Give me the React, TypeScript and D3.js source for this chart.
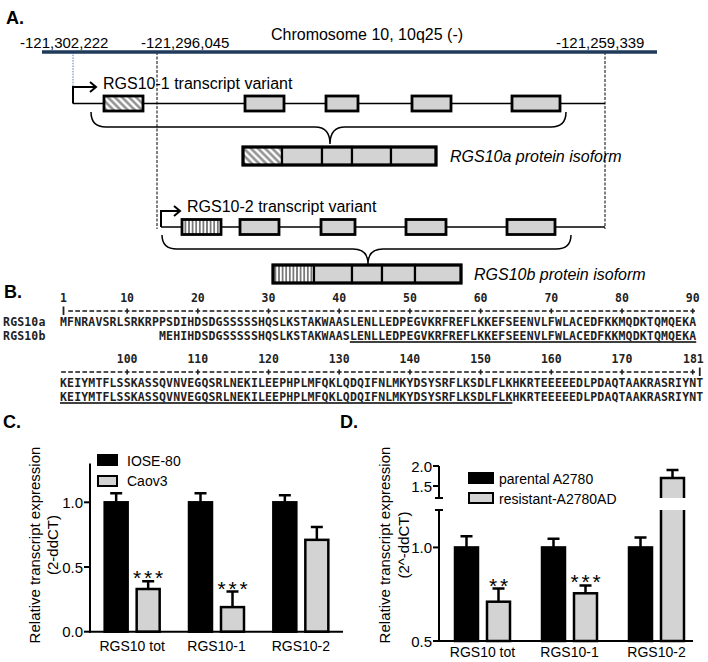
import React from "react";
import * as d3 from "d3";

const SANS = "'Liberation Sans', Arial, Helvetica, sans-serif";
const MONO = "'DejaVu Sans Mono', 'Liberation Mono', monospace";
const GRAY = "#d3d3d3";

// ---------- Panel A (schematic units) ----------
const chromTitle = "Chromosome 10, 10q25 (-)";
const genomicLabels = ["-121,302,222", "-121,296,045", "-121,259,339"];
const transcriptNames = ["RGS10-1 transcript variant", "RGS10-2 transcript variant"];
const isoformNames = ["RGS10a protein isoform", "RGS10b protein isoform"];
const exons1 = [[104, 143], [245, 284], [326, 358], [412, 451], [512, 560]];
const exons2 = [[182, 221], [240, 279], [321, 355], [406, 446], [507, 555]];
const isoformA = [243, 282, 322, 352, 391, 436];
const isoformB = [273, 314, 352, 382, 415, 461];

// ---------- Panel B ----------
const seqNames = ["RGS10a", "RGS10b"];
const rgs10aLine1 = "MFNRAVSRLSRKRPPSDIHDSDGSSSSSHQSLKSTAKWAASLENLLEDPEGVKRFREFLKKEFSEENVLFWLACEDFKKMQDKTQMQEKA";
const rgs10bLine1 = "MEHIHDSDGSSSSSHQSLKSTAKWAASLENLLEDPEGVKRFREFLKKEFSEENVLFWLACEDFKKMQDKTQMQEKA";
const rgs10bStart1 = 15;
const rgs10aLine2 = "KEIYMTFLSSKASSQVNVEGQSRLNEKILEEPHPLMFQKLQDQIFNLMKYDSYSRFLKSDLFLKHKRTEEEEEDLPDAQTAAKRASRIYNT";
const rgs10bLine2 = "KEIYMTFLSSKASSQVNVEGQSRLNEKILEEPHPLMFQKLQDQIFNLMKYDSYSRFLKSDLFLKHKRTEEEEEDLPDAQTAAKRASRIYNT";
const rulerNums1 = [1, 10, 20, 30, 40, 50, 60, 70, 80, 90];
const rulerNums2 = [100, 110, 120, 130, 140, 150, 160, 170, 181];
const underline1 = [42, 90];
const underline2 = [91, 154];

// ---------- Panel C ----------
const categories = ["RGS10 tot", "RGS10-1", "RGS10-2"];
const seriesC = ["IOSE-80", "Caov3"];
const ioseMean = [1.0, 1.0, 1.0];
const ioseSem = [0.07, 0.07, 0.055];
const caov3Mean = [0.33, 0.19, 0.71];
const caov3Sem = [0.06, 0.12, 0.1];
const caov3Stars = ["***", "***", ""];
const cTicks = [0, 0.5, 1.0];
const cTitle = ["Relative transcript expression", "(2-ddCT)"];

// ---------- Panel D ----------
const seriesD = ["parental A2780", "resistant-A2780AD"];
const parentalMean = [1.0, 1.0, 1.0];
const parentalSem = [0.06, 0.047, 0.053];
const resistantMean = [0.71, 0.755, 1.7];
const resistantSem = [0.07, 0.042, 0.2];
const resistantStars = ["**", "***", ""];
const dTicksLower = [0.5, 1.0];
const dTicksUpper = [1.5, 2.0];
const dTitle = ["Relative transcript expression", "(2^-ddCT)"];

const fmt = d3.format(".1f");

function brace(x1: number, x2: number, cx: number, y0: number, y1: number, y2: number, r: number) {
  return `M${x1},${y0} Q${x1},${y1} ${x1 + r},${y1} H${cx - r} Q${cx},${y1} ${cx},${y2} Q${cx},${y1} ${cx + r},${y1} H${x2 - r} Q${x2},${y1} ${x2},${y0}`;
}

function PanelA() {
  const sx = d3.scaleLinear().domain([0, 708]).range([0, 708]);
  const chromY = 52;
  const t1Y = 103.5;
  const t2Y = 227;
  const eh = 15;
  const exonRects = (ex: number[][], y: number, pat: string) =>
    ex.map((e, i) => (
      <rect key={i} x={sx(e[0])} y={y - eh / 2} width={sx(e[1]) - sx(e[0])} height={eh}
        fill={i === 0 ? `url(#${pat})` : GRAY} stroke="#000" strokeWidth={2.8} />
    ));
  const protein = (seg: number[], y: number, h: number, pat: string) => (
    <g>
      {seg.slice(0, -1).map((s, i) => (
        <rect key={i} x={sx(s)} y={y} width={sx(seg[i + 1]) - sx(s)} height={h}
          fill={i === 0 ? `url(#${pat})` : GRAY} stroke="#000" strokeWidth={2.2} />
      ))}
      <rect x={sx(seg[0])} y={y} width={sx(seg[seg.length - 1]) - sx(seg[0])} height={h}
        fill="none" stroke="#000" strokeWidth={3.2} />
    </g>
  );
  return (
    <g>
      <text x={6} y={24} fontSize={18} fontWeight="bold">A.</text>
      <text x={367} y={40} fontSize={16} textAnchor="middle">{chromTitle}</text>
      <text x={20} y={48} fontSize={15}>{genomicLabels[0]}</text>
      <text x={141} y={48} fontSize={15}>{genomicLabels[1]}</text>
      <text x={556} y={48} fontSize={15}>{genomicLabels[2]}</text>
      <line x1={73} x2={73} y1={chromY} y2={t1Y} stroke="#4f81bd" strokeWidth={1} strokeDasharray="1.5,1.2" />
      <line x1={157} x2={157} y1={chromY} y2={t2Y + 2} stroke="#000" strokeWidth={1} strokeDasharray="3,1.5" />
      <line x1={605} x2={605} y1={chromY} y2={t2Y + 2} stroke="#000" strokeWidth={1} strokeDasharray="3,1.5" />
      <line x1={sx(42)} x2={sx(657)} y1={chromY} y2={chromY} stroke="#1f3a5a" strokeWidth={3.5} />
      <line x1={73} x2={605} y1={t1Y} y2={t1Y} stroke="#000" strokeWidth={1.3} />
      <path d={`M73,${t1Y} V87 H96 M90,82 L96,87 L90,92`} fill="none" stroke="#000" strokeWidth={2} />
      <text x={103} y={89} fontSize={16}>{transcriptNames[0]}</text>
      {exonRects(exons1, t1Y, "hatchDiag")}
      <path d={brace(91, 566, 330, 112, 127, 144, 15)} fill="none" stroke="#000" strokeWidth={1.5} />
      {protein(isoformA, 147, 18, "hatchDiag")}
      <text x={450} y={162} fontSize={16} fontStyle="italic">{isoformNames[0]}</text>
      <line x1={161} x2={605} y1={t2Y} y2={t2Y} stroke="#000" strokeWidth={1.3} />
      <path d={`M161,${t2Y} V211 H180 M174,206 L180,211 L174,216`} fill="none" stroke="#000" strokeWidth={2} />
      <text x={187} y={212} fontSize={16}>{transcriptNames[1]}</text>
      {exonRects(exons2, t2Y, "hatchVert")}
      <path d={brace(162, 571, 368, 235, 249, 264, 15)} fill="none" stroke="#000" strokeWidth={1.5} />
      {protein(isoformB, 265, 18, "hatchVert")}
      <text x={474} y={280} fontSize={16} fontStyle="italic">{isoformNames[1]}</text>
    </g>
  );
}

function Ruler({ from, to, y, seqX, off }: { from: number; to: number; y: number; seqX: (v: number) => number; off: number }) {
  const step = seqX(2) - seqX(1);
  const pos = d3.range(from, to + 1);
  return (
    <g stroke="#222">
      {pos.map((p) => {
        const cx = seqX(p - off);
        const isEnd = p === 1 || p === 181;
        if (isEnd) return <line key={p} x1={cx} x2={cx} y1={y - 4.5} y2={y + 4} strokeWidth={1.8} />;
        const isPlus = p % 10 === 0;
        return (
          <g key={p}>
            <line x1={cx - step / 2 + 1.2} x2={cx + step / 2 - 1.2} y1={y} y2={y} strokeWidth={1.6} />
            {isPlus && <line x1={cx} x2={cx} y1={y - 2.5} y2={y + 2.5} strokeWidth={1.6} />}
          </g>
        );
      })}
    </g>
  );
}

function PanelB() {
  const seqX = d3.scaleLinear().domain([1, 90]).range([63.5, 692.7]);
  const step = seqX(2) - seqX(1);
  const xs = (start: number, n: number) => d3.range(n).map((i) => seqX(start + i).toFixed(2)).join(" ");
  const rows = [
    { numY: 302, rulY: 311, aY: 326, bY: 339.5 },
    { numY: 363, rulY: 372, aY: 387, bY: 400.5 },
  ];
  const seqStyle = { fontFamily: MONO, fontWeight: "bold" as const, fontSize: 11.5, fill: "#222" };
  const nameX = (i: number) => (3 + step / 2 + i * step).toFixed(2);
  return (
    <g>
      <text x={4} y={298} fontSize={18} fontWeight="bold">B.</text>
      {rulerNums1.map((n) => (
        <text key={n} x={seqX(n)} y={rows[0].numY} textAnchor="middle" style={seqStyle}>{n}</text>
      ))}
      <Ruler from={1} to={90} y={rows[0].rulY} seqX={seqX} off={0} />
      <text x={d3.range(6).map(nameX).join(" ")} y={rows[0].aY} textAnchor="middle" style={seqStyle}>{seqNames[0]}</text>
      <text x={d3.range(6).map(nameX).join(" ")} y={rows[0].bY} textAnchor="middle" style={seqStyle}>{seqNames[1]}</text>
      <text x={xs(1, rgs10aLine1.length)} y={rows[0].aY} textAnchor="middle" style={seqStyle}>{rgs10aLine1}</text>
      <text x={xs(rgs10bStart1, rgs10bLine1.length)} y={rows[0].bY} textAnchor="middle" style={seqStyle}>{rgs10bLine1}</text>
      <line x1={seqX(underline1[0]) - step / 2} x2={seqX(underline1[1]) + step / 2} y1={rows[0].bY + 2.5} y2={rows[0].bY + 2.5} stroke="#000" strokeWidth={1.3} />
      {rulerNums2.map((n) => (
        <text key={n} x={n === 181 ? seqX(n - 90) + 4 : seqX(n - 90)} y={rows[1].numY}
          textAnchor={n === 181 ? "end" : "middle"} style={seqStyle}>{n}</text>
      ))}
      <Ruler from={91} to={181} y={rows[1].rulY} seqX={seqX} off={90} />
      <text x={xs(1, rgs10aLine2.length)} y={rows[1].aY} textAnchor="middle" style={seqStyle}>{rgs10aLine2}</text>
      <text x={xs(1, rgs10bLine2.length)} y={rows[1].bY} textAnchor="middle" style={seqStyle}>{rgs10bLine2}</text>
      <line x1={seqX(underline2[0] - 90) - step / 2} x2={seqX(underline2[1] - 90) + step / 2} y1={rows[1].bY + 2.5} y2={rows[1].bY + 2.5} stroke="#000" strokeWidth={1.3} />
    </g>
  );
}

function Stars({ cx, y, s }: { cx: number; y: number; s: string }) {
  if (!s) return null;
  const n = s.length;
  const xs = d3.range(n).map((i) => (cx + (i - (n - 1) / 2) * 11).toFixed(1)).join(" ");
  return <text x={xs} y={y} fontSize={21} textAnchor="middle">{s}</text>;
}

function PanelC() {
  const x = d3.scaleBand().domain(categories).range([90, 343]);
  const y = d3.scaleLinear().domain([0, 1.3]).range([631.7, 463.5]);
  const bw = 23, gap = 4.5, cap = 6;
  const y0 = y(0);
  return (
    <g>
      <text x={3} y={428} fontSize={18} fontWeight="bold">C.</text>
      <text transform="translate(40,545) rotate(-90)" fontSize={15} textAnchor="middle">{cTitle[0]}</text>
      <text transform="translate(58,545) rotate(-90)" fontSize={15} textAnchor="middle">{cTitle[1]}</text>
      {categories.map((c, i) => {
        const cx = (x(c) as number) + x.bandwidth() / 2;
        const bx = cx - gap - bw, gx = cx + gap;
        const yb = y(ioseMean[i]), yg = y(caov3Mean[i]);
        const eb = y(ioseMean[i] + ioseSem[i]), eg = y(caov3Mean[i] + caov3Sem[i]);
        return (
          <g key={c}>
            <path d={`M${bx + bw / 2},${yb} V${eb} M${bx + bw / 2 - cap},${eb} H${bx + bw / 2 + cap}`} stroke="#000" strokeWidth={2.5} fill="none" />
            <path d={`M${gx + bw / 2},${yg} V${eg} M${gx + bw / 2 - cap},${eg} H${gx + bw / 2 + cap}`} stroke="#000" strokeWidth={2.5} fill="none" />
            <rect x={bx} y={yb} width={bw} height={y0 - yb} fill="#000" stroke="#000" strokeWidth={2.5} />
            <rect x={gx} y={yg} width={bw} height={y0 - yg} fill={GRAY} stroke="#000" strokeWidth={2.5} />
            <Stars cx={gx + bw / 2} y={eg + 4} s={caov3Stars[i]} />
            <text x={cx} y={651} fontSize={14} textAnchor="middle">{c}</text>
          </g>
        );
      })}
      <line x1={90} x2={90} y1={y(0) + 1} y2={y(1.3)} stroke="#000" strokeWidth={2} />
      <line x1={89} x2={343} y1={y0} y2={y0} stroke="#000" strokeWidth={2} />
      {cTicks.map((t) => (
        <g key={t}>
          <line x1={84} x2={90} y1={y(t)} y2={y(t)} stroke="#000" strokeWidth={2} />
          <text x={83} y={y(t) + 5.5} fontSize={15} textAnchor="end">{fmt(t)}</text>
        </g>
      ))}
      <rect x={98} y={455} width={19} height={10} fill="#000" stroke="#000" strokeWidth={2} />
      <text x={127} y={466} fontSize={14}>{seriesC[0]}</text>
      <rect x={98} y={476} width={19} height={10} fill={GRAY} stroke="#000" strokeWidth={2} />
      <text x={127} y={486} fontSize={14}>{seriesC[1]}</text>
    </g>
  );
}

function PanelD() {
  const ax = 439;
  const x = d3.scaleBand().domain(categories).range([ax, 700]);
  const yl = d3.scaleLinear().domain([0.5, 1.2]).range([641, 510]);
  const yu = d3.scaleLinear().domain([1.2, 2.0]).range([498, 466]);
  const y = (v: number) => (v <= 1.2 ? yl(v) : yu(v));
  const bw = 23, gap = 4.5, cap = 6;
  const y0 = yl(0.5);
  return (
    <g>
      <text x={340} y={428} fontSize={18} fontWeight="bold">D.</text>
      <text transform="translate(390,545) rotate(-90)" fontSize={15} textAnchor="middle">{dTitle[0]}</text>
      <text transform="translate(409,545) rotate(-90)" fontSize={15} textAnchor="middle">{dTitle[1]}</text>
      {categories.map((c, i) => {
        const cx = (x(c) as number) + x.bandwidth() / 2;
        const bx = cx - gap - bw, gx = cx + gap;
        const yb = y(parentalMean[i]), yg = y(resistantMean[i]);
        const eb = y(parentalMean[i] + parentalSem[i]), eg = y(resistantMean[i] + resistantSem[i]);
        const broken = resistantMean[i] > 1.2;
        return (
          <g key={c}>
            <path d={`M${bx + bw / 2},${yb} V${eb} M${bx + bw / 2 - cap},${eb} H${bx + bw / 2 + cap}`} stroke="#000" strokeWidth={2.5} fill="none" />
            <path d={`M${gx + bw / 2},${yg} V${eg} M${gx + bw / 2 - cap},${eg} H${gx + bw / 2 + cap}`} stroke="#000" strokeWidth={2.5} fill="none" />
            <rect x={bx} y={yb} width={bw} height={y0 - yb} fill="#000" stroke="#000" strokeWidth={2.5} />
            <rect x={gx} y={yg} width={bw} height={y0 - yg} fill={GRAY} stroke="#000" strokeWidth={2.5} />
            {broken && <rect x={gx - 3} y={yu(1.2)} width={bw + 6} height={yl(1.2) - yu(1.2)} fill="#fff" />}
            <Stars cx={gx + bw / 2} y={eg + 4} s={resistantStars[i]} />
            <text x={cx} y={657} fontSize={14} textAnchor="middle">{c}</text>
          </g>
        );
      })}
      <line x1={ax} x2={ax} y1={y0 + 1} y2={yl(1.2)} stroke="#000" strokeWidth={2} />
      <line x1={ax - 4} x2={ax + 4} y1={yl(1.2)} y2={yl(1.2)} stroke="#000" strokeWidth={2} />
      <line x1={ax} x2={ax} y1={yu(1.2)} y2={yu(2.0)} stroke="#000" strokeWidth={2} />
      <line x1={ax - 4} x2={ax + 4} y1={yu(1.2)} y2={yu(1.2)} stroke="#000" strokeWidth={2} />
      <line x1={ax - 1} x2={693} y1={y0} y2={y0} stroke="#000" strokeWidth={2} />
      {dTicksLower.map((t) => (
        <g key={t}>
          <line x1={ax - 6} x2={ax} y1={yl(t)} y2={yl(t)} stroke="#000" strokeWidth={2} />
          <text x={ax - 7} y={yl(t) + 5.5} fontSize={15} textAnchor="end">{fmt(t)}</text>
        </g>
      ))}
      {dTicksUpper.map((t) => (
        <g key={t}>
          <line x1={ax - 6} x2={ax} y1={yu(t)} y2={yu(t)} stroke="#000" strokeWidth={2} />
          <text x={ax - 7} y={yu(t) + 5.5} fontSize={15} textAnchor="end">{fmt(t)}</text>
        </g>
      ))}
      <rect x={469} y={473} width={24} height={10} fill="#000" stroke="#000" strokeWidth={2} />
      <text x={499} y={484} fontSize={14}>{seriesD[0]}</text>
      <rect x={469} y={493} width={24} height={10} fill={GRAY} stroke="#000" strokeWidth={2} />
      <text x={499} y={504} fontSize={14}>{seriesD[1]}</text>
    </g>
  );
}

export default function App() {
  return (
    <svg width={708} height={662} viewBox="0 0 708 662"
      style={{ position: "absolute", left: 0, top: 0, display: "block", background: "#fff" }}
      fontFamily={SANS}>
      <defs>
        <pattern id="hatchDiag" patternUnits="userSpaceOnUse" width="5" height="5" patternTransform="rotate(-45)">
          <rect width="5" height="5" fill="#fff" />
          <line x1="2.5" y1="0" x2="2.5" y2="5" stroke="#8a8a8a" strokeWidth="2.4" />
        </pattern>
        <pattern id="hatchVert" patternUnits="userSpaceOnUse" width="3.6" height="10">
          <rect width="3.6" height="10" fill="#fff" />
          <line x1="1.8" y1="0" x2="1.8" y2="10" stroke="#222" strokeWidth="1.1" />
        </pattern>
      </defs>
      <rect width={708} height={662} fill="#fff" />
      <PanelA />
      <PanelB />
      <PanelC />
      <PanelD />
    </svg>
  );
}
